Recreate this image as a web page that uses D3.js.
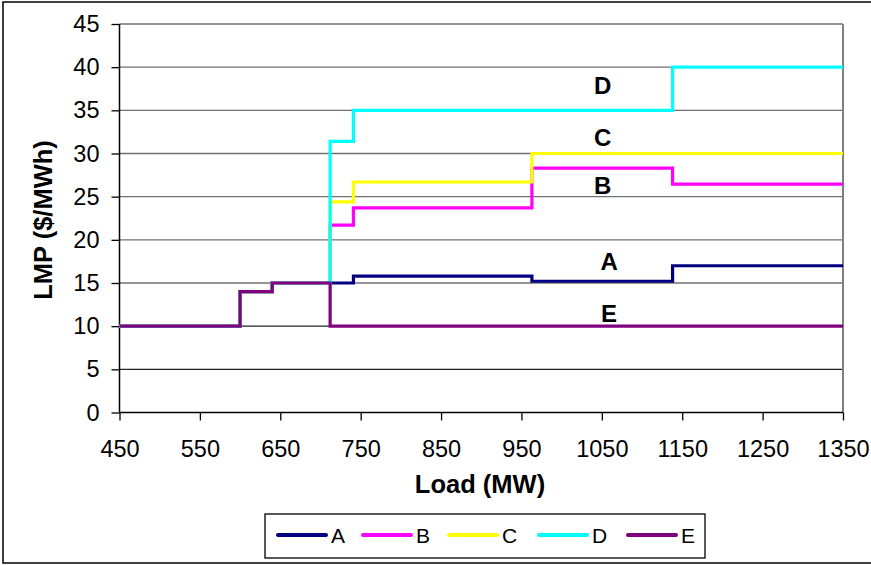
<!DOCTYPE html>
<html><head><meta charset="utf-8">
<script src="https://cdn.jsdelivr.net/npm/d3@7"></script>
<style>
html,body{margin:0;padding:0;background:#fff;}
text{font-family:Arial,"Liberation Sans",sans-serif;}
</style></head>
<body><svg id="c" width="871" height="565"></svg>
<script>
const seriesNames = ["A","B","C","D","E"];
const seriesColors = ["#000080","#ff00ff","#ffff00","#00ffff","#800080"];
const loadA = [450,600,640,712,741,963,1138,1350];
const lmpA  = [10,14,15,15,15.8,15.2,17,17];
const loadB = [450,600,640,712,741,963,1138,1350];
const lmpB  = [10,14,15,21.7,23.7,28.3,26.45,26.45];
const loadC = [450,600,640,712,741,963,1350];
const lmpC  = [10,14,15,24.4,26.7,30,30];
const loadD = [450,600,640,712,741,1138,1350];
const lmpD  = [10,14,15,31.4,35,40,40];
const loadE = [450,600,640,712,1350];
const lmpE  = [10,14,15,10,10];
const xTicks = [450,550,650,750,850,950,1050,1150,1250,1350];
const yTicks = [0,5,10,15,20,25,30,35,40,45];
const labelNames = ["D","C","B","A","E"];
const labelLoad = [1051,1051,1051,1059,1059];
const labelLmp  = [37.9,31.8,26.3,17.5,11.5];

const svg = d3.select("#c");
const L=119.5, R=843, T=24, B=412.5;
const x = d3.scaleLinear().domain([450,1350]).range([L,R]);
const y = d3.scaleLinear().domain([0,45]).range([B,T]);

// outer border
svg.append("rect").attr("x",3).attr("y",2).attr("width",880).attr("height",561)
  .attr("fill","none").attr("stroke","#000").attr("stroke-width",1.5);

// gridlines
svg.append("g").selectAll("line").data(yTicks.filter(d=>d>0)).join("line")
  .attr("x1",L).attr("x2",R).attr("y1",d=>y(d)).attr("y2",d=>y(d))
  .attr("stroke",d=>d<=10?"#222":"#707070").attr("stroke-width",1.3);
// right border of plot
svg.append("line").attr("x1",R).attr("x2",R).attr("y1",T).attr("y2",B)
  .attr("stroke","#808080").attr("stroke-width",2);

// axes
const xAxis = svg.append("g").attr("transform",`translate(0,${B})`)
  .call(d3.axisBottom(x).tickValues(xTicks).tickSize(8).tickPadding(20).tickFormat(d3.format("d")));
const yAxis = svg.append("g").attr("transform",`translate(${L},0)`)
  .call(d3.axisLeft(y).tickValues(yTicks).tickSize(8).tickPadding(12));
[xAxis,yAxis].forEach(g=>{
  g.select(".domain").attr("stroke","#000").attr("stroke-width",1.5);
  g.selectAll(".tick line").attr("stroke","#000").attr("stroke-width",1.3);
  g.selectAll("text").attr("font-size",23.5).attr("fill","#000")
   .attr("font-family","Arial, 'Liberation Sans', sans-serif");
});
yAxis.select(".domain").attr("d",`M0,${B}V${T}`);
xAxis.select(".domain").attr("d",`M${L},0H${R}`);

// series
const series = [
  {loads:loadA, lmps:lmpA},
  {loads:loadB, lmps:lmpB},
  {loads:loadC, lmps:lmpC},
  {loads:loadD, lmps:lmpD},
  {loads:loadE, lmps:lmpE}
];
const line = d3.line().x(d=>x(d[0])).y(d=>y(d[1])).curve(d3.curveStepAfter);
series.forEach((s,i)=>{
  svg.append("path").datum(s.loads.map((l,j)=>[l,s.lmps[j]]))
    .attr("d",line).attr("fill","none").attr("stroke",seriesColors[i])
    .attr("stroke-width",3.2).attr("stroke-linejoin","miter");
});

// in-chart labels
svg.append("g").selectAll("text").data(labelNames).join("text")
  .attr("x",(d,i)=>x(labelLoad[i])).attr("y",(d,i)=>y(labelLmp[i]))
  .attr("text-anchor","middle").attr("dominant-baseline","central")
  .attr("font-size",24).attr("font-weight","bold").text(d=>d);

// axis titles
svg.append("text").attr("x",480).attr("y",493).attr("text-anchor","middle")
  .attr("font-size",25.5).attr("font-weight","bold").text("Load (MW)");
svg.append("text").attr("transform","translate(52,220) rotate(-90)").attr("text-anchor","middle")
  .attr("font-size",25.5).attr("font-weight","bold").text("LMP ($/MWh)");

// legend
svg.append("rect").attr("x",265).attr("y",514).attr("width",440).attr("height",44)
  .attr("fill","#fff").attr("stroke","#000").attr("stroke-width",1.3);
const legX = [278,363,449,539,628];
const lg = svg.append("g").selectAll("g").data(seriesNames).join("g")
  .attr("transform",(d,i)=>`translate(${legX[i]},535)`);
lg.append("line").attr("x1",0).attr("x2",48).attr("y1",0).attr("y2",0)
  .attr("stroke",(d,i)=>seriesColors[i]).attr("stroke-width",4).attr("stroke-linecap","round");
lg.append("text").attr("x",53).attr("y",0).attr("dy","0.36em").attr("font-size",21).text(d=>d);
</script></body></html>
